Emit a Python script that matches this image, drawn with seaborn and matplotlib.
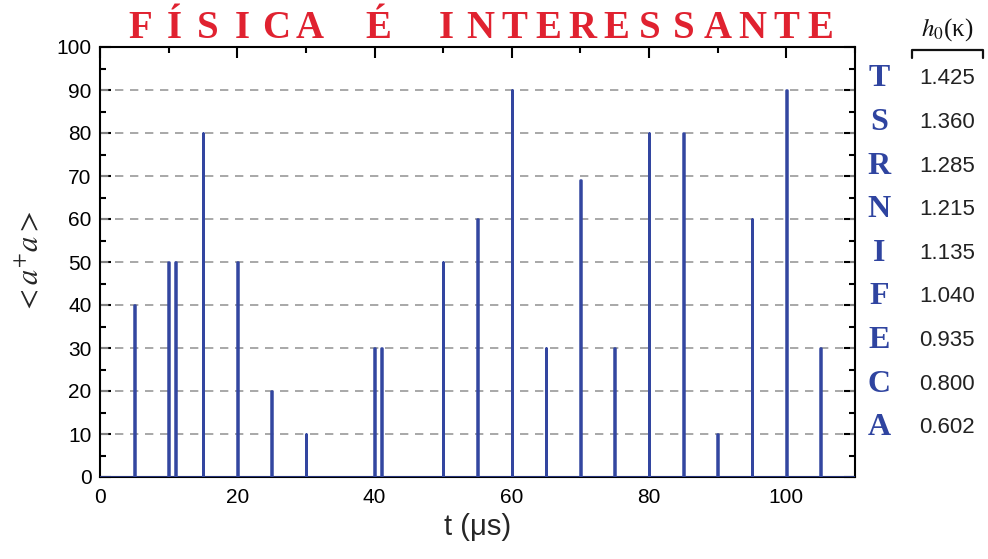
import numpy as np
import pandas as pd
import matplotlib
matplotlib.use("Agg")
import matplotlib.pyplot as plt
import seaborn as sns
from matplotlib.lines import Line2D
from matplotlib.ticker import MultipleLocator

# ---- data ----
pulse_times = [5, 10, 11, 15, 20, 25, 30, 40, 41, 50, 55, 60, 65, 70, 75, 80, 85, 90, 95, 100, 105]
pulse_heights = [40, 50, 50, 80, 50, 20, 10, 30, 30, 50, 60, 90, 30, 69, 30, 80, 80, 10, 60, 90, 30]
code_letters = ["T", "S", "R", "N", "I", "F", "E", "C", "A"]
code_values = ["1.425", "1.360", "1.285", "1.215", "1.135", "1.040", "0.935", "0.800", "0.602"]
title_words = ["FÍSICA", "É", "INTERESSANTE"]
x_ticks = [0, 20, 40, 60, 80, 100]
y_ticks = [0, 10, 20, 30, 40, 50, 60, 70, 80, 90, 100]

# ---- build pulse train polyline ----
half_w = 0.04
xs, ys = [0.0], [0.0]
for t, h in zip(pulse_times, pulse_heights):
    xs += [t - half_w, t - half_w, t + half_w, t + half_w]
    ys += [0, h, h, 0]
xs.append(110.0)
ys.append(0.0)
df = pd.DataFrame({"t": xs, "n": ys})

sns.set_theme(style="white")
plt.rcParams["font.family"] = ["Liberation Sans", "DejaVu Sans"]

W, H = 988, 559
fig = plt.figure(figsize=(W / 100, H / 100), dpi=100)
ax = fig.add_axes([100 / W, 1 - 477 / H, 755 / W, 430 / H])

blue = "#3346a0"
sns.lineplot(data=df, x="t", y="n", sort=False, estimator=None, ax=ax,
             color=blue, linewidth=1.8, zorder=3)

ax.set_xlim(0, 110)
ax.set_ylim(0, 100)
ax.set_xticks(x_ticks)
ax.set_yticks(y_ticks)
ax.xaxis.set_minor_locator(MultipleLocator(10))
ax.yaxis.set_minor_locator(MultipleLocator(5))

for yv in y_ticks[1:-1]:
    ax.axhline(yv, color="#9a9a9a", linestyle=(0, (5, 4)), linewidth=1.2, zorder=1)

ax.tick_params(axis="both", which="both", direction="in", colors="black",
               labelsize=15, top=True, right=True, bottom=True, left=True)
ax.tick_params(axis="both", which="major", length=8, width=1.5)
ax.tick_params(axis="both", which="minor", length=4, width=1.5)
ax.tick_params(axis="x", which="both", bottom=False, pad=8)
ax.tick_params(axis="y", pad=6)
for s in ax.spines.values():
    s.set_color("black")
    s.set_linewidth(1.5)
    s.set_visible(True)

ax.set_xlabel("t (μs)", fontsize=21, labelpad=4)
ylab = ax.set_ylabel(r"$<a^{+}a>$", fontsize=22, labelpad=8)
ylab.set_math_fontfamily("stix")

# ---- title: spaced red letters ----
title_chars = []
for wi, w in enumerate(title_words):
    if wi > 0:
        title_chars.append(None)
    title_chars.extend(list(w))
n_slots = len(title_chars)
x0, x1 = 140, 820
step = (x1 - x0) / (n_slots - 1)
for i, ch in enumerate(title_chars):
    if ch is None:
        continue
    fig.text((x0 + i * step) / W, 1 - 29 / H, ch, color="#e02230",
             fontsize=28, fontweight="bold", family="Liberation Serif",
             ha="center", va="center")

# ---- right-side code table ----
for i, (L, v) in enumerate(zip(code_letters, code_values)):
    yp = 79 + i * 43.6
    fig.text(879 / W, 1 - yp / H, L, color="#2f44a0", fontsize=23,
             fontweight="bold", family="Liberation Serif", ha="center", va="center")
    fig.text(947 / W, 1 - yp / H, v, color="#222222", fontsize=16,
             family="Liberation Sans", ha="center", va="center")

htxt = fig.text(947 / W, 1 - 30 / H, r"$h_0$(κ)", fontsize=18, ha="center",
                va="center", color="#111111", family="Liberation Serif")
htxt.set_math_fontfamily("stix")
bx0, bx1, by = 912, 983, 50
fig.add_artist(Line2D([bx0 / W, bx0 / W, bx1 / W, bx1 / W],
                      [1 - 58 / H, 1 - by / H, 1 - by / H, 1 - 58 / H],
                      color="#111111", linewidth=1.6, transform=fig.transFigure))

fig.savefig("out.png", dpi=100, facecolor="white")
